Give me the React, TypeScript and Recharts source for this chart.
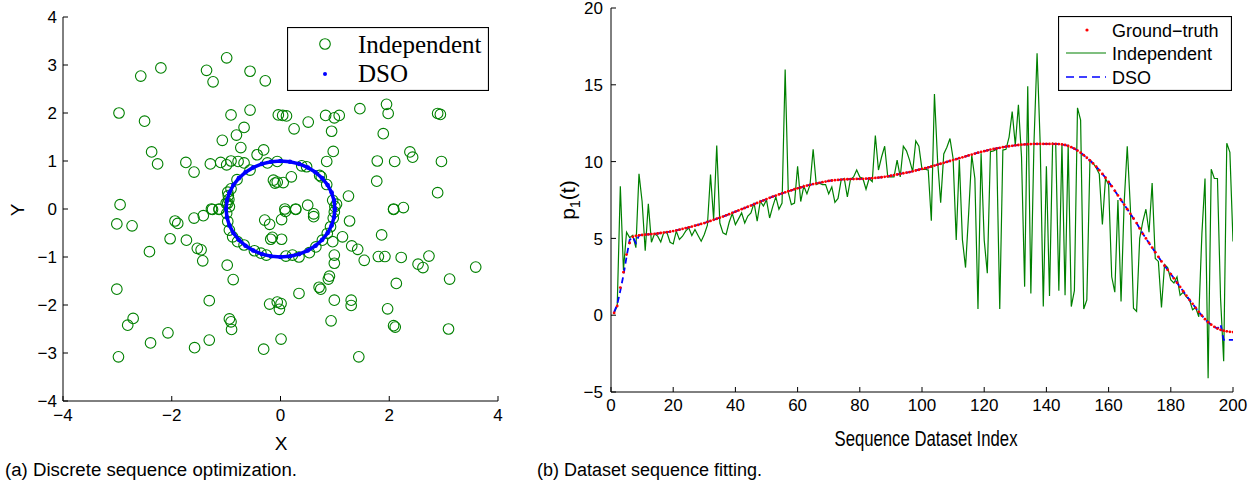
import { Legend, Line, LineChart, Scatter, ScatterChart, XAxis, YAxis } from "recharts";

const SANS = "'Liberation Sans', Arial, Helvetica, sans-serif";
const SERIF = "'Liberation Serif', 'Times New Roman', serif";
const GREEN = "#008000";
const BLUE = "#0000ff";
const RED = "#ff0000";
const TICK_LEN = 5;

// ---- panel (a): discrete sequence optimization ----
const xyTicks = [-4, -2, 0, 2, 4];
const yTicksA = [-4, -3, -2, -1, 0, 1, 2, 3, 4];

// independent solutions as [x, y]
const independentPts: [number, number][] = [
  [-2.57, 2.77], [-2.2, 2.94], [-1.36, 2.89], [-1.24, 2.65], [-0.99, 3.15], [-0.56, 2.87], [-0.28, 2.67],
  [-2.97, 2.0], [-2.5, 1.83], [-0.91, 1.96], [-0.56, 2.06], [-0.04, 1.96], [-0.67, 1.7], [-0.81, 1.54],
  [-1.07, 1.43], [-0.73, 1.28], [-2.37, 1.19], [-2.26, 0.94], [-1.74, 0.97], [-1.59, 0.77], [-1.29, 0.94],
  [-1.1, 0.97], [-0.99, 0.92], [-0.91, 1.0], [-0.78, 0.99], [-0.67, 0.96], [-0.56, 0.81], [-0.43, 1.13],
  [-0.31, 1.23], [-0.24, 0.96], [-0.13, 0.6], [-0.1, 0.54], [-0.8, 0.61], [-0.91, 0.42], [-0.97, 0.35],
  [-0.96, 0.28], [-0.95, 0.2], [-0.97, 0.12], [-0.94, 0.05], [-2.95, 0.09], [-1.27, 0.0], [-1.13, 0.0],
  [0.04, 1.95], [0.11, 1.94], [0.51, 1.81], [0.25, 1.67], [0.83, 1.95], [0.99, 1.9], [1.08, 1.95],
  [0.94, 1.62], [1.46, 2.09], [1.95, 2.18], [1.98, 1.99], [1.89, 1.57], [2.89, 1.99], [2.94, 1.97],
  [0.97, 1.2], [0.85, 0.99], [0.39, 0.9], [0.48, 0.88], [1.78, 1.0], [2.1, 0.99], [2.38, 1.19],
  [2.43, 1.08], [2.96, 0.99], [1.77, 0.58], [2.89, 0.34], [0.2, 0.67], [0.05, 0.55], [-0.06, 0.56],
  [0.85, 0.51], [1.25, 0.27], [-0.06, 0.99], [0.72, 0.7], [0.75, 0.67], [0.96, 0.18], [1.0, 0.05],
  [1.03, 0.1], [2.08, 0.0], [2.26, 0.03], [0.28, 0.0], [0.08, 0.0], [0.61, -0.1],
  [-3.01, -0.31], [-2.73, -0.35], [-1.94, -0.25], [-1.89, -0.3], [-1.59, -0.19], [-1.42, -0.14],
  [-1.25, -0.01], [-1.13, -0.01], [-2.03, -0.62], [-1.73, -0.65], [-2.41, -0.89], [-1.53, -0.82],
  [-1.46, -0.85], [-1.43, -1.08], [-0.98, -1.17], [-0.87, -1.47], [-3.01, -1.67], [-1.31, -1.91],
  [-2.81, -2.42], [-2.71, -2.28], [-2.07, -2.58], [-2.39, -2.79], [-2.98, -3.08], [-1.58, -2.89],
  [-1.31, -2.73], [-0.94, -2.29], [-0.91, -2.35], [-0.9, -2.51], [-0.31, -2.92], [0.01, -2.71],
  [-0.2, -1.98], [-0.06, -1.94], [0.01, -1.97], [-0.02, -2.09], [0.34, -1.76],
  [-0.29, -0.23], [-0.2, -0.32], [0.02, -0.22], [0.09, -0.05], [0.28, -0.01], [0.5, 0.08], [0.61, -0.16],
  [-0.18, -0.63], [-0.15, -0.59], [0.02, -0.63], [1.14, -0.58], [1.27, -0.25], [0.96, -0.68], [1.31, -0.77],
  [1.42, -0.84], [1.54, -1.07], [0.99, -0.96], [0.99, -1.13], [0.9, -1.4], [0.88, -1.46], [0.71, -1.63],
  [0.74, -1.67], [0.99, -1.9], [1.3, -1.9], [1.3, -2.01], [0.93, -2.33], [1.44, -3.08],
  [1.86, -0.54], [1.8, -0.99], [1.92, -0.99], [2.22, -1.01], [2.08, -0.01], [2.13, -1.55], [1.97, -2.08],
  [2.08, -2.43], [2.11, -2.46], [2.53, -1.15], [2.62, -1.22], [2.73, -0.98], [3.11, -1.46], [3.09, -2.5],
  [3.59, -1.21],
  [-1.0, 0.12], [-0.99, -0.09], [-0.97, -0.26], [-0.94, -0.44], [-0.88, -0.58], [-0.79, -0.68],
  [-0.67, -0.75], [-0.48, -0.87], [-0.36, -0.92], [-0.26, -0.96], [0.1, -0.98], [0.22, -0.96],
  [0.34, -1.0], [0.53, -0.91], [0.65, -0.79], [0.77, -0.65], [0.86, -0.51], [0.92, -0.37],
  [0.97, -0.19], [0.99, -0.06],
];

// DSO solutions: the unit circle, every 10 degrees (closed)
const dsoPts: [number, number][] = [
  [1, 0], [0.985, 0.174], [0.94, 0.342], [0.866, 0.5], [0.766, 0.643], [0.643, 0.766], [0.5, 0.866],
  [0.342, 0.94], [0.174, 0.985], [0, 1], [-0.174, 0.985], [-0.342, 0.94], [-0.5, 0.866], [-0.643, 0.766],
  [-0.766, 0.643], [-0.866, 0.5], [-0.94, 0.342], [-0.985, 0.174], [-1, 0], [-0.985, -0.174],
  [-0.94, -0.342], [-0.866, -0.5], [-0.766, -0.643], [-0.643, -0.766], [-0.5, -0.866], [-0.342, -0.94],
  [-0.174, -0.985], [0, -1], [0.174, -0.985], [0.342, -0.94], [0.5, -0.866], [0.643, -0.766],
  [0.766, -0.643], [0.866, -0.5], [0.94, -0.342], [0.985, -0.174], [1, 0],
];

// ---- panel (b): dataset sequence fitting ----
const xTicksB = [0, 20, 40, 60, 80, 100, 120, 140, 160, 180, 200];
const yTicksB = [-5, 0, 5, 10, 15, 20];

const groundTruth = [
  0.15, 0.6, 1.8, 2.8, 3.95, 4.7, 5.1, 5.17, 5.2, 5.22,
  5.24, 5.26, 5.28, 5.3, 5.32, 5.35, 5.38, 5.41, 5.44, 5.48,
  5.52, 5.57, 5.62, 5.67, 5.72, 5.77, 5.83, 5.88, 5.94, 6.0,
  6.07, 6.14, 6.21, 6.28, 6.35, 6.42, 6.5, 6.58, 6.66, 6.74,
  6.82, 6.9, 6.98, 7.06, 7.14, 7.23, 7.31, 7.39, 7.47, 7.56,
  7.64, 7.72, 7.79, 7.86, 7.93, 8.0, 8.07, 8.13, 8.2, 8.26,
  8.32, 8.38, 8.44, 8.49, 8.54, 8.58, 8.62, 8.66, 8.7, 8.74,
  8.77, 8.79, 8.81, 8.83, 8.84, 8.85, 8.86, 8.86, 8.87, 8.87,
  8.88, 8.89, 8.9, 8.92, 8.94, 8.96, 8.98, 9.01, 9.04, 9.08,
  9.12, 9.16, 9.2, 9.24, 9.28, 9.32, 9.37, 9.42, 9.47, 9.52,
  9.57, 9.62, 9.68, 9.74, 9.8, 9.86, 9.92, 9.98, 10.04, 10.1,
  10.16, 10.22, 10.28, 10.34, 10.4, 10.46, 10.52, 10.58, 10.63, 10.68,
  10.73, 10.78, 10.82, 10.86, 10.9, 10.94, 10.97, 11.0, 11.03, 11.06,
  11.08, 11.1, 11.12, 11.13, 11.14, 11.15, 11.15, 11.15, 11.15, 11.15,
  11.15, 11.15, 11.15, 11.14, 11.12, 11.08, 11.02, 10.94, 10.84, 10.72,
  10.58, 10.42, 10.25, 10.07, 9.88, 9.67, 9.44, 9.2, 8.95, 8.68,
  8.4, 8.1, 7.8, 7.5, 7.2, 6.9, 6.6, 6.3, 6.0, 5.65,
  5.3, 5.0, 4.7, 4.4, 4.1, 3.8, 3.5, 3.22, 2.95, 2.68,
  2.4, 2.12, 1.84, 1.56, 1.28, 1.0, 0.74, 0.48, 0.22, -0.03,
  -0.26, -0.46, -0.62, -0.76, -0.87, -0.95, -1.01, -1.05, -1.08, -1.1,
];

const independentSeq = [
  0.15, 0.6, 8.4, 2.95, 5.4, 5.05, 5.2, 4.4, 9.2, 7.4,
  4.2, 7.25, 4.75, 5.3, 5.15, 4.77, 5.4, 5.36, 4.75, 4.64,
  5.47, 4.93, 5.14, 5.47, 5.69, 5.19, 5.58, 5.19, 4.82, 5.25,
  5.86, 9.16, 6.23, 11.05, 6.0, 5.36, 5.25, 6.05, 6.62, 5.9,
  6.27, 6.66, 6.0, 6.45, 6.66, 7.31, 6.12, 7.42, 7.1, 7.5,
  6.33, 7.07, 7.7, 6.9, 7.3, 16.0, 8.0, 7.2, 7.3, 9.7,
  7.4, 8.4, 7.9, 8.5, 10.8, 8.5, 8.6, 8.5, 8.5, 7.9,
  8.35, 7.35, 7.6, 8.8, 8.9, 7.7, 8.85, 9.0, 9.45, 9.0,
  8.9, 8.2, 8.9, 8.7, 11.7, 9.45, 10.3, 11.0, 9.0, 9.0,
  9.0, 10.1, 9.0, 11.0, 10.7, 10.1, 9.35, 11.35, 11.0, 9.5,
  9.5, 9.45, 6.15, 14.4, 10.1, 7.33, 10.5, 10.93, 11.5, 10.2,
  4.9, 10.1, 4.9, 3.1, 6.63, 10.43, 8.9, 0.4, 10.54, 4.9,
  2.73, 10.65, 10.7, 10.8, 0.4, 10.75, 10.8, 11.6, 13.25, 11.08,
  13.7, 10.3, 1.86, 14.9, 1.42, 11.2, 17.05, 11.2, 0.56, 9.7,
  1.25, 11.2, 11.1, 1.6, 11.2, 1.3, 11.1, 0.56, 1.6, 13.5,
  12.7, 0.4, 1.0, 10.1, 9.9, 9.6, 9.2, 5.9, 8.9, 8.5,
  2.5, 1.5, 7.5, 0.9, 7.3, 11.0, 7.0, 0.45, 0.25, 5.0,
  6.1, 6.9, 5.4, 8.6, 3.7, 3.5, 0.5, 3.3, 3.1, 2.3,
  2.1, 2.5, 1.3, 1.5, 1.2, 1.0, 0.35, 0.5, -0.1, 5.3,
  8.9, -4.1, 9.5, 8.9, 8.9, 1.1, -3.0, 11.2, 10.6, 4.8,
];

const dsoSeq = [
  0.2, 0.7, 1.6, 2.6, 3.8, 4.9, 5.1, 4.7, 5.2, 5.22,
  5.24, 5.26, 5.28, 5.3, 5.32, 5.35, 5.38, 5.41, 5.44, 5.48,
  5.52, 5.57, 5.62, 5.67, 5.72, 5.77, 5.83, 5.88, 5.94, 6.0,
  6.07, 6.14, 6.21, 6.28, 6.35, 6.42, 6.5, 6.58, 6.66, 6.74,
  6.82, 6.9, 6.98, 7.06, 7.14, 7.23, 7.31, 7.39, 7.47, 7.56,
  7.64, 7.72, 7.79, 7.86, 7.93, 8.0, 8.07, 8.13, 8.2, 8.26,
  8.32, 8.38, 8.44, 8.49, 8.54, 8.58, 8.62, 8.66, 8.7, 8.74,
  8.77, 8.79, 8.81, 8.83, 8.84, 8.85, 8.86, 8.86, 8.87, 8.87,
  8.88, 8.89, 8.9, 8.92, 8.94, 8.96, 8.98, 9.01, 9.04, 9.08,
  9.12, 9.16, 9.2, 9.24, 9.28, 9.32, 9.37, 9.42, 9.47, 9.52,
  9.57, 9.62, 9.68, 9.74, 9.8, 9.86, 9.92, 9.98, 10.04, 10.1,
  10.16, 10.22, 10.28, 10.34, 10.4, 10.46, 10.52, 10.58, 10.63, 10.68,
  10.73, 10.78, 10.82, 10.86, 10.9, 10.94, 10.97, 11.0, 11.03, 11.06,
  11.08, 11.1, 11.12, 11.13, 11.14, 11.15, 11.15, 11.15, 11.15, 11.15,
  11.15, 11.15, 11.15, 11.14, 11.12, 11.08, 11.02, 10.94, 10.84, 10.72,
  10.58, 10.42, 10.25, 10.07, 9.88, 9.67, 9.44, 9.2, 8.95, 8.68,
  8.4, 8.1, 7.8, 7.5, 7.2, 6.9, 6.6, 6.3, 6.0, 5.65,
  5.3, 5.0, 4.7, 4.4, 4.1, 3.8, 3.5, 3.22, 2.95, 2.68,
  2.4, 2.12, 1.84, 1.56, 1.28, 1.0, 0.74, 0.48, 0.22, -0.03,
  -0.26, -0.46, -0.62, -0.76, -0.87, -0.6, -1.6, -1.6, -1.6, -1.6,
];

const scatterIndependent = independentPts.map(([x, y]) => ({ x, y }));
const scatterDso = dsoPts.map(([x, y]) => ({ x, y }));
const seqRows = groundTruth.map((gt, k) => ({
  i: k + 1,
  gt,
  ind: independentSeq[k],
  dso: dsoSeq[k],
}));

const minus = (v: number) => String(v).replace("-", "\u2212");

// MATLAB-style ticks: pointing into the plot, labels outside
function makeTick(side: "bottom" | "left" | "top" | "right", margin: number, fontSize: number) {
  return (props: any) => {
    const { x, y, payload } = props;
    if (side === "bottom") {
      const ay = y - margin;
      return (
        <g>
          <line x1={x} y1={ay} x2={x} y2={ay - TICK_LEN} stroke="#000" />
          <text x={x} y={y} dy="0.75em" textAnchor="middle" fontSize={fontSize} fontFamily={SANS} fill="#000">
            {minus(payload.value)}
          </text>
        </g>
      );
    }
    if (side === "left") {
      const ax = x + margin;
      return (
        <g>
          <line x1={ax} y1={y} x2={ax + TICK_LEN} y2={y} stroke="#000" />
          <text x={x} y={y} dy="0.36em" textAnchor="end" fontSize={fontSize} fontFamily={SANS} fill="#000">
            {minus(payload.value)}
          </text>
        </g>
      );
    }
    if (side === "top") {
      return <line x1={x} y1={y} x2={x} y2={y + TICK_LEN} stroke="#000" />;
    }
    return <line x1={x} y1={y} x2={x - TICK_LEN} y2={y} stroke="#000" />;
  };
}

const ringShape = (p: any) => (
  <circle cx={p.cx} cy={p.cy} r={5.3} fill="none" stroke={GREEN} strokeWidth={1.1} />
);
const dotShape = (p: any) => <circle cx={p.cx} cy={p.cy} r={2.3} fill={BLUE} />;

function LegendA() {
  return (
    <svg width={202} height={64} style={{ display: "block" }}>
      <rect x={0.5} y={0.5} width={201} height={63} fill="#fff" stroke="#000" strokeWidth={1.2} />
      <circle cx={38} cy={17} r={5.3} fill="none" stroke={GREEN} strokeWidth={1.1} />
      <circle cx={38} cy={47} r={2} fill={BLUE} />
      <text x={71} y={26} fontFamily={SERIF} fontSize={25} fill="#000">Independent</text>
      <text x={71} y={55} fontFamily={SERIF} fontSize={25} fill="#000">DSO</text>
    </svg>
  );
}

function LegendB() {
  return (
    <svg width={174} height={75} style={{ display: "block" }}>
      <rect x={0.5} y={0.5} width={173} height={74} fill="#fff" stroke="#000" strokeWidth={1.2} />
      <circle cx={29} cy={14} r={1.6} fill={RED} />
      <line x1={8} y1={37} x2={48} y2={37} stroke={GREEN} strokeWidth={1.2} />
      <line x1={8} y1={61} x2={48} y2={61} stroke={BLUE} strokeWidth={1.6} strokeDasharray="8 5" />
      <text x={54} y={21} fontFamily={SANS} fontSize={18} fill="#000">Ground{"\u2212"}truth</text>
      <text x={54} y={44} fontFamily={SANS} fontSize={18} fill="#000">Independent</text>
      <text x={54} y={68} fontFamily={SANS} fontSize={18} fill="#000">DSO</text>
    </svg>
  );
}

export default function App() {
  return (
    <div style={{ position: "absolute", left: 0, top: 0, width: 1258, height: 487, background: "#fff", overflow: "hidden" }}>
      <div style={{ position: "absolute", left: 0, top: 0 }}>
        <ScatterChart width={520} height={460} margin={{ top: 17, right: 22, bottom: 0, left: 0 }}>
          <XAxis xAxisId="b" type="number" dataKey="x" domain={[-4, 4]} ticks={xyTicks} interval={0}
            allowDataOverflow height={59} tickSize={0} tickMargin={7} tickLine={false}
            axisLine={{ stroke: "#000" }} tick={makeTick("bottom", 7, 17)} />
          <XAxis xAxisId="t" orientation="top" type="number" dataKey="x" domain={[-4, 4]} ticks={xyTicks}
            interval={0} allowDataOverflow height={0} tickSize={0} tickMargin={0} tickLine={false}
            axisLine={{ stroke: "#000" }} tick={makeTick("top", 0, 17)} />
          <YAxis yAxisId="l" type="number" dataKey="y" domain={[-4, 4]} ticks={yTicksA} interval={0}
            allowDataOverflow width={63} tickSize={0} tickMargin={6} tickLine={false}
            axisLine={{ stroke: "#000" }} tick={makeTick("left", 6, 17)} />
          <YAxis yAxisId="r" orientation="right" type="number" dataKey="y" domain={[-4, 4]} ticks={yTicksA}
            interval={0} allowDataOverflow width={0} tickSize={0} tickMargin={0} tickLine={false}
            axisLine={{ stroke: "#000" }} tick={makeTick("right", 0, 17)} />
          <Scatter xAxisId="b" yAxisId="l" name="Independent" data={scatterIndependent} shape={ringShape}
            isAnimationActive={false} />
          <Scatter xAxisId="b" yAxisId="l" name="DSO" data={scatterDso} line={{ stroke: BLUE, strokeWidth: 3.5 }}
            lineType="joint" shape={dotShape} isAnimationActive={false} />
          <Legend layout="vertical" align="center" verticalAlign="middle" content={() => <LegendA />}
            wrapperStyle={{ left: 287, top: 27, width: 202, height: 64 }} />
        </ScatterChart>
      </div>

      <div style={{ position: "absolute", left: 540, top: 0 }}>
        <LineChart width={718} height={460} data={seqRows} margin={{ top: 8, right: 25, bottom: 0, left: 0 }}>
          <XAxis xAxisId="b" type="number" dataKey="i" domain={[0, 200]} ticks={xTicksB} interval={0}
            allowDataOverflow height={68} tickSize={0} tickMargin={6} tickLine={false}
            axisLine={{ stroke: "#000" }} tick={makeTick("bottom", 6, 17)} />
          <XAxis xAxisId="t" orientation="top" type="number" dataKey="i" domain={[0, 200]} ticks={xTicksB}
            interval={0} allowDataOverflow height={0} tickSize={0} tickMargin={0} tickLine={false}
            axisLine={{ stroke: "#000" }} tick={makeTick("top", 0, 17)} />
          <YAxis yAxisId="l" type="number" domain={[-5, 20]} ticks={yTicksB} interval={0} allowDataOverflow
            width={71} tickSize={0} tickMargin={8} tickLine={false} axisLine={{ stroke: "#000" }}
            tick={makeTick("left", 8, 17)} />
          <YAxis yAxisId="r" orientation="right" type="number" domain={[-5, 20]} ticks={yTicksB} interval={0}
            allowDataOverflow width={0} tickSize={0} tickMargin={0} tickLine={false}
            axisLine={{ stroke: "#000" }} tick={makeTick("right", 0, 17)} />
          <Line xAxisId="b" yAxisId="l" dataKey="gt" name="Ground-truth" stroke="none"
            dot={{ r: 1.4, fill: RED, stroke: "none" }} isAnimationActive={false} />
          <Line xAxisId="b" yAxisId="l" dataKey="ind" name="Independent" type="linear" stroke={GREEN}
            strokeWidth={1.2} dot={false} isAnimationActive={false} />
          <Line xAxisId="b" yAxisId="l" dataKey="dso" name="DSO" type="linear" stroke={BLUE} strokeWidth={1.8}
            strokeDasharray="6 4" dot={false} isAnimationActive={false} />
          <Legend layout="vertical" align="center" verticalAlign="middle" content={() => <LegendB />}
            wrapperStyle={{ left: 518, top: 16, width: 174, height: 75 }} />
        </LineChart>
      </div>

      <svg width={1258} height={487} style={{ position: "absolute", left: 0, top: 0, pointerEvents: "none" }}>
        <text x={281} y={450} textAnchor="middle" fontFamily={SANS} fontSize={19} fill="#000">X</text>
        <text x={24} y={210} textAnchor="middle" fontFamily={SANS} fontSize={19} fill="#000"
          transform="rotate(-90 24 210)">Y</text>
        <text x={926} y={446} textAnchor="middle" fontFamily={SANS} fontSize={22} fill="#000"
          textLength={183} lengthAdjust="spacingAndGlyphs">Sequence Dataset Index</text>
        <text x={575} y={200} textAnchor="middle" fontFamily={SANS} fontSize={21} fill="#000"
          transform="rotate(-90 575 200)">
          p<tspan fontSize={14} dy={5}>1</tspan><tspan dy={-5}>(t)</tspan>
        </text>
        <text x={5} y={476} fontFamily={SANS} fontSize={18} fill="#000" textLength={292}
          lengthAdjust="spacingAndGlyphs">(a) Discrete sequence optimization.</text>
        <text x={537} y={476} fontFamily={SANS} fontSize={18} fill="#000" textLength={225}
          lengthAdjust="spacingAndGlyphs">(b) Dataset sequence fitting.</text>
      </svg>
    </div>
  );
}
